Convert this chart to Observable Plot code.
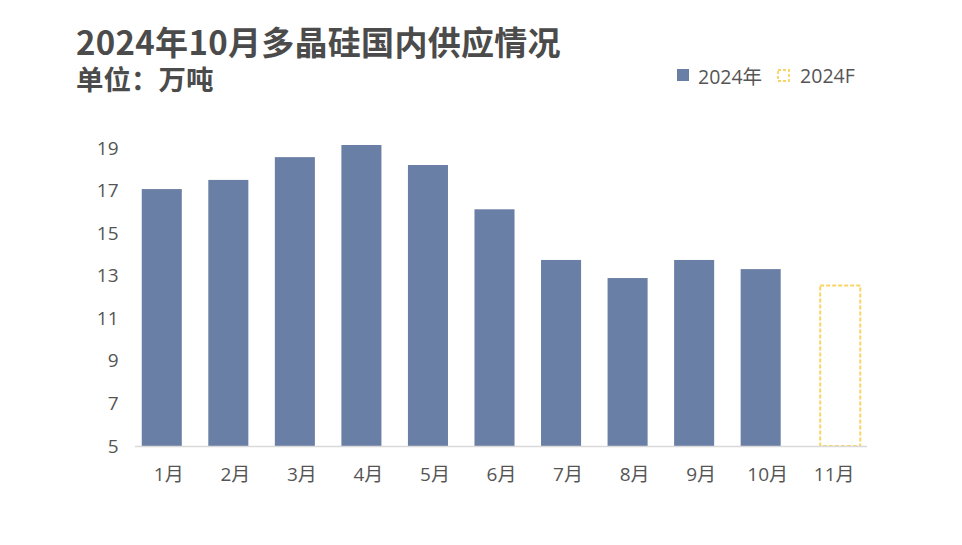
<!DOCTYPE html>
<html>
<head>
<meta charset="utf-8">
<script src="https://cdn.jsdelivr.net/npm/d3@7"></script>
<script src="https://cdn.jsdelivr.net/npm/@observablehq/plot@0.6"></script>
<style>
  html, body { margin: 0; padding: 0; background: #fff; }
  #wrap { position: relative; width: 962px; height: 545px; overflow: hidden; font-family: "Noto Sans CJK SC", "Open Sans", sans-serif; color: #555555; }
  #title { position: absolute; left: 76px; top: 23px; font-size: 33px; font-weight: 700; line-height: 36px; white-space: nowrap; letter-spacing: 0.3px; color: #4b4b4b; }
  #subtitle { position: absolute; left: 76px; top: 63px; font-size: 27.5px; font-weight: 700; line-height: 30px; white-space: nowrap; color: #4b4b4b; }
  #legend { position: absolute; left: 677px; top: 62px; height: 26px; display: flex; align-items: center; font-size: 19.5px; font-family: "Open Sans", "Noto Sans CJK SC", sans-serif; white-space: nowrap; }
  #legend .item { display: flex; align-items: center; }
  #legend svg { display: block; }
  #chart { position: absolute; left: 0; top: 110px; }
</style>
</head>
<body>
<div id="wrap">
  <div id="title"></div>
  <div id="subtitle"></div>
  <div id="legend"></div>
  <div id="chart"></div>
</div>
<script>
const titleText = "2024年10月多晶硅国内供应情况";
const subtitleText = "单位：万吨";
const seriesNames = ["2024年", "2024F"];
const months = ["1月", "2月", "3月", "4月", "5月", "6月", "7月", "8月", "9月", "10月", "11月"];
const actual2024 = [17.07, 17.5, 18.57, 19.14, 18.2, 16.12, 13.74, 12.89, 13.74, 13.31, null];
const forecast2024 = [null, null, null, null, null, null, null, null, null, null, 12.54];
const yTicks = [5, 7, 9, 11, 13, 15, 17, 19];

const barColor = "#6a7fa5";
const fcColor = "#f9d463";
const textColor = "#555555";

document.getElementById("title").textContent = titleText;
document.getElementById("subtitle").textContent = subtitleText;

// legend
const legend = document.getElementById("legend");
seriesNames.forEach((name, i) => {
  const item = document.createElement("div");
  item.className = "item";
  item.style.marginRight = i === 0 ? "15px" : "0";
  const sw = i === 0
    ? `<svg width="13" height="13"><rect x="0" y="0" width="12" height="12" fill="${barColor}"/></svg>`
    : `<svg width="13" height="13"><rect x="1" y="1" width="11" height="11" fill="none" stroke="${fcColor}" stroke-width="1.8" stroke-dasharray="3,2"/></svg>`;
  item.innerHTML = sw + `<span style="margin-left:${i === 0 ? 8 : 10}px">${name}</span>`;
  legend.appendChild(item);
});

const actualData = months.map((m, i) => ({month: m, value: actual2024[i]})).filter(d => d.value != null);
const fcData = months.map((m, i) => ({month: m, value: forecast2024[i]})).filter(d => d.value != null);

const chart = Plot.plot({
  width: 962,
  height: 400,
  marginLeft: 135,
  marginRight: 95,
  marginTop: 16.7,
  marginBottom: 64,
  style: {fontFamily: "'Open Sans', 'Noto Sans CJK SC', sans-serif", fontSize: "19px", color: textColor, background: "transparent"},
  x: {domain: months, padding: 0, round: false, label: null, tickSize: 0, tickPadding: 21},
  y: {domain: [5, 20], ticks: yTicks, label: null, tickSize: 0, tickPadding: 17, tickFormat: d => String(d)},
  marks: [
    Plot.barY(actualData, {x: "month", y1: 5, y2: "value", fill: barColor, insetLeft: 13.25, insetRight: 13.25, dx: -6.5}),
    Plot.barY(fcData, {x: "month", y1: 5, y2: "value", fill: "none", stroke: fcColor, strokeWidth: 2, strokeDasharray: "4,2", insetLeft: 13.25, insetRight: 13.25, dx: 6.5}),
    Plot.ruleY([5], {stroke: "#d9d9d9", strokeWidth: 1.5})
  ]
});
document.getElementById("chart").appendChild(chart);
</script>
</body>
</html>
